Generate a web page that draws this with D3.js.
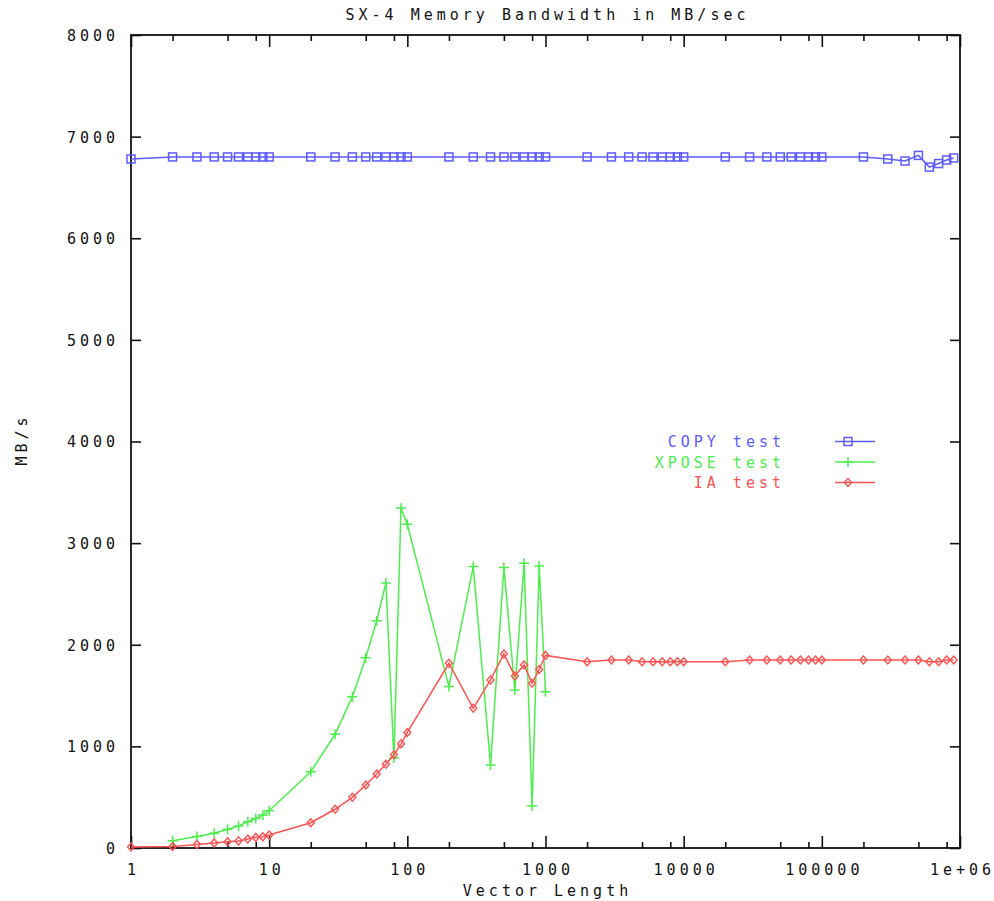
<!DOCTYPE html>
<html>
<head>
<meta charset="utf-8">
<script src="https://cdn.jsdelivr.net/npm/d3@7"></script>
<style>
  body { margin: 0; background: #fff; }
  text { font-family: "DejaVu Sans Mono", monospace; font-size: 15px; letter-spacing: 4px; }
</style>
</head>
<body>
<svg id="canvas" width="994" height="901"></svg>
<script>
// vector lengths used by the COPY and IA runs
const copyLengths = [1, 2, 3, 4, 5, 6, 7, 8, 9, 10,
  20, 30, 40, 50, 60, 70, 80, 90, 100,
  200, 300, 400, 500, 600, 700, 800, 900, 1000,
  2000, 3000, 4000, 5000, 6000, 7000, 8000, 9000, 10000,
  20000, 30000, 40000, 50000, 60000, 70000, 80000, 90000, 100000,
  200000, 300000, 400000, 500000, 600000, 700000, 800000, 900000];

const copyValues = [6780, 6800, 6800, 6800, 6800, 6800, 6800, 6800, 6800, 6800,
  6800, 6800, 6800, 6800, 6800, 6800, 6800, 6800, 6800,
  6800, 6800, 6800, 6800, 6800, 6800, 6800, 6800, 6800,
  6800, 6800, 6800, 6800, 6800, 6800, 6800, 6800, 6800,
  6800, 6800, 6800, 6800, 6800, 6800, 6800, 6800, 6800,
  6800, 6780, 6760, 6815, 6700, 6735, 6770, 6790];

const iaLengths = copyLengths;
const iaValues = [10, 15, 35, 50, 62, 70, 88, 105, 110, 128,
  249, 381, 499, 620, 728, 824, 918, 1025, 1137,
  1818, 1375, 1654, 1909, 1693, 1801, 1621, 1757, 1895,
  1833, 1850, 1850, 1833, 1833, 1833, 1833, 1833, 1833,
  1833, 1850, 1850, 1850, 1850, 1850, 1850, 1850, 1850,
  1850, 1850, 1850, 1850, 1833, 1833, 1850, 1850];

const xposeLengths = [2, 3, 4, 5, 6, 7, 8, 9, 10,
  20, 30, 40, 50, 60, 70, 80, 90, 100,
  200, 300, 400, 500, 600, 700, 800, 900, 1000];
const xposeValues = [72, 113, 145, 184, 217, 259, 290, 325, 367,
  750, 1119, 1489, 1873, 2237, 2608, 886, 3345, 3185,
  1588, 2769, 817, 2759, 1555, 2802, 413, 2776, 1538];

const xTickValues = [1, 10, 100, 1000, 10000, 100000, 1000000];
const xTickLabels = ["1", "10", "100", "1000", "10000", "100000", "1e+06"];
const xMinorTicks = [2, 5, 8, 20, 50, 80, 200, 500, 800, 2000, 5000, 8000,
  20000, 50000, 80000, 200000, 500000, 800000];
const yTickValues = [0, 1000, 2000, 3000, 4000, 5000, 6000, 7000, 8000];

const seriesNames = ["COPY test", "XPOSE test", "IA test"];
const seriesColors = ["#5c5cff", "#4cee4c", "#ff5252"];

const plotLeft = 131, plotRight = 960, plotTop = 35, plotBottom = 848;
const spacing = 4; // letter-spacing leaves a trailing gap

const canvas = d3.select("#canvas");

const x = d3.scaleLog().domain([1, 1000000]).range([plotLeft, plotRight]);
const y = d3.scaleLinear().domain([0, 8000]).range([plotBottom, plotTop]);

const styleAxis = (g) => {
  g.select(".domain").remove();
  g.selectAll("line").attr("stroke", "#111").attr("stroke-width", 1.6);
  g.selectAll("text")
    .attr("fill", "#111")
    .style("font-family", "'DejaVu Sans Mono', monospace")
    .style("font-size", "15px");
};

// bottom axis with labels
canvas.append("g")
  .attr("transform", "translate(0," + plotBottom + ")")
  .call(d3.axisBottom(x).tickValues(xTickValues)
    .tickFormat((d, i) => xTickLabels[i])
    .tickSizeInner(-12).tickSizeOuter(0).tickPadding(16.5))
  .call(styleAxis)
  .selectAll("text").attr("dx", spacing / 2);

canvas.append("g")
  .attr("transform", "translate(0," + plotBottom + ")")
  .call(d3.axisBottom(x).tickValues(xMinorTicks).tickFormat("")
    .tickSizeInner(-6).tickSizeOuter(0))
  .call(styleAxis);

canvas.append("g")
  .attr("transform", "translate(0," + plotTop + ")")
  .call(d3.axisTop(x).tickValues(xTickValues).tickFormat("")
    .tickSizeInner(-12).tickSizeOuter(0))
  .call(styleAxis);

canvas.append("g")
  .attr("transform", "translate(0," + plotTop + ")")
  .call(d3.axisTop(x).tickValues(xMinorTicks).tickFormat("")
    .tickSizeInner(-6).tickSizeOuter(0))
  .call(styleAxis);

canvas.append("g")
  .attr("transform", "translate(" + plotLeft + ",0)")
  .call(d3.axisLeft(y).tickValues(yTickValues).tickFormat(d3.format("d"))
    .tickSizeInner(-10).tickSizeOuter(0).tickPadding(16))
  .call(styleAxis)
  .selectAll("text").attr("dx", spacing).attr("dy", "0.36em");

canvas.append("g")
  .attr("transform", "translate(" + plotRight + ",0)")
  .call(d3.axisRight(y).tickValues(yTickValues).tickFormat("")
    .tickSizeInner(-10).tickSizeOuter(0))
  .call(styleAxis);

// frame
canvas.append("rect")
  .attr("x", plotLeft)
  .attr("y", plotTop)
  .attr("width", plotRight - plotLeft)
  .attr("height", plotBottom - plotTop)
  .attr("fill", "none")
  .attr("stroke", "#111")
  .attr("stroke-width", 1.8);

// titles
canvas.append("text")
  .attr("x", (plotLeft + plotRight) / 2 + spacing / 2)
  .attr("y", 20)
  .attr("text-anchor", "middle")
  .attr("fill", "#111")
  .text("SX-4 Memory Bandwidth in MB/sec");

canvas.append("text")
  .attr("x", (plotLeft + plotRight) / 2 + spacing / 2)
  .attr("y", 896)
  .attr("text-anchor", "middle")
  .attr("fill", "#111")
  .text("Vector Length");

canvas.append("text")
  .attr("transform", "translate(27," + (plotTop + plotBottom) / 2 + ") rotate(-90)")
  .attr("dx", spacing / 2)
  .attr("text-anchor", "middle")
  .attr("fill", "#111")
  .text("MB/s");

// markers
const drawMarker = (sel, kind, color) => {
  if (kind === 0) {
    sel.append("rect")
      .attr("x", -4).attr("y", -4).attr("width", 8).attr("height", 8)
      .attr("fill", "none").attr("stroke", color).attr("stroke-width", 1.5);
  } else if (kind === 1) {
    sel.append("path")
      .attr("d", "M-5,0H5M0,-5V5")
      .attr("fill", "none").attr("stroke", color).attr("stroke-width", 1.5);
  } else {
    sel.append("path")
      .attr("d", "M0,-4L3.5,0L0,4L-3.5,0Z")
      .attr("fill", "none").attr("stroke", color).attr("stroke-width", 1.4);
  }
};

const series = [
  { lengths: copyLengths, values: copyValues },
  { lengths: xposeLengths, values: xposeValues },
  { lengths: iaLengths, values: iaValues }
];

const line = d3.line()
  .x((d) => x(d[0]))
  .y((d) => y(d[1]));

series.forEach((s, k) => {
  const points = s.lengths.map((len, i) => [len, s.values[i]]);
  const color = seriesColors[k];

  canvas.append("path")
    .datum(points)
    .attr("d", line)
    .attr("fill", "none")
    .attr("stroke", color)
    .attr("stroke-width", 1.5);

  canvas.append("g")
    .selectAll("g")
    .data(points)
    .enter()
    .append("g")
    .attr("transform", (d) => "translate(" + x(d[0]) + "," + y(d[1]) + ")")
    .each(function () {
      drawMarker(d3.select(this), k, color);
    });

  // legend row
  const rowY = 441.5 + k * 20.5;
  canvas.append("text")
    .attr("x", 781 + spacing)
    .attr("y", rowY + 5.5)
    .attr("text-anchor", "end")
    .attr("fill", color)
    .text(seriesNames[k]);

  canvas.append("line")
    .attr("x1", 835).attr("x2", 875)
    .attr("y1", rowY).attr("y2", rowY)
    .attr("stroke", color)
    .attr("stroke-width", 1.5);

  canvas.append("g")
    .attr("transform", "translate(848," + rowY + ")")
    .call((g) => drawMarker(g, k, color));
});
</script>
</body>
</html>
